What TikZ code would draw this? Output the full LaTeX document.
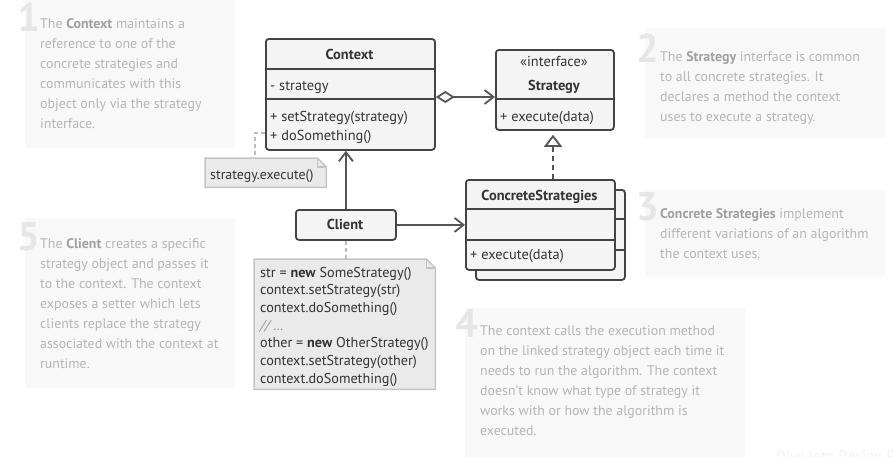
\documentclass[tikz,border=0pt]{standalone}
\usepackage{fontspec}
\setmainfont{PT Sans}
\usetikzlibrary{arrows.meta}
\definecolor{annbg}{HTML}{F8F8F8}
\definecolor{anntext}{HTML}{B5B5B5}
\definecolor{annbold}{HTML}{A0A0A0}
\definecolor{annnum}{HTML}{E6E6E6}
\definecolor{umlline}{HTML}{444444}
\definecolor{umlfill}{HTML}{F4F4F4}
\definecolor{umltext}{HTML}{333333}
\definecolor{connc}{HTML}{555555}
\definecolor{notefill}{HTML}{EAEAEA}
\definecolor{noteline}{HTML}{C4C4C4}
\definecolor{dashcol}{HTML}{BDBDBD}
\definecolor{wmark}{HTML}{F2F2F2}
\definecolor{cmtcol}{HTML}{999999}
\newcommand\annb[1]{\textbf{\color{annbold}#1}}
\begin{document}
\begin{tikzpicture}[x=1pt,y=-1pt,
  annbox/.style={fill=annbg, draw=none, inner sep=0pt, anchor=north west},
  anntxt/.style={anchor=north west, inner sep=0pt, align=left, text=anntext, font=\fontsize{13.9}{20}\selectfont},
  annnumber/.style={anchor=base west, inner sep=0pt, text=annnum, font=\fontsize{40}{40}\selectfont\bfseries},
  umlbox/.style={draw=umlline, fill=umlfill, line width=1.8pt, rounded corners=3pt, inner sep=0pt, anchor=north west},
  umldiv/.style={draw=umlline, line width=1.8pt},
  umltxt/.style={inner sep=0pt, text=umltext, font=\fontsize{14.4}{16}\selectfont},
  umlbold/.style={umltxt, font=\fontsize{14.4}{16}\selectfont\bfseries},
  notebox/.style={draw=none, inner sep=0pt, anchor=north west},
  notedraw/.style={draw=noteline, fill=notefill, line width=1.5pt},
  connline/.style={draw=connc, line width=1.8pt},
  openarrow/.style={-{Straight Barb[length=9pt,width=14pt]}},
  graydash/.style={draw=dashcol, line width=1.5pt, dash pattern=on 4pt off 3pt}
]
\useasboundingbox (0,0) rectangle (893,456);

% ---------- annotation panels ----------
\node[annbox, minimum width=210pt, minimum height=153pt] (a1bg) at (25,-5) {};
\node[annnumber] (a1num) at (17,31) {1};
\node[anntxt] (a1txt) at (40,14) {\strut The \annb{Context} maintains a\\ reference to one of the\\ concrete strategies and\\ communicates with this\\ object only via the strategy\\ interface.};

\node[annbox, minimum width=240pt, minimum height=110pt] (a2bg) at (645,28) {};
\node[annnumber] (a2num) at (636,62) {2};
\node[anntxt] (a2txt) at (660,47) {\strut The \annb{Strategy} interface is common\\ to all concrete strategies. It\\ declares a method the context\\ uses to execute a strategy.};

\node[annbox, minimum width=240pt, minimum height=87pt] (a3bg) at (645,190) {};
\node[annnumber] (a3num) at (636,220) {3};
\node[anntxt] (a3txt) at (660,204) {\strut\annb{Concrete Strategies} implement\\ different variations of an algorithm\\ the context uses.};

\node[annbox, minimum width=280pt, minimum height=160pt] (a4bg) at (465,308) {};
\node[annnumber] (a4num) at (455,337) {4};
\node[anntxt] (a4txt) at (480,321) {\strut The context calls the execution method\\ on the linked strategy object each time it\\ needs to run the algorithm. The context\\ doesn’t know what type of strategy it\\ works with or how the algorithm is\\ executed.};

\node[annbox, minimum width=210pt, minimum height=170pt] (a5bg) at (25,218) {};
\node[annnumber] (a5num) at (17,250) {5};
\node[anntxt] (a5txt) at (40,234) {\strut The \annb{Client} creates a specific\\ strategy object and passes it\\ to the context. The context\\ exposes a setter which lets\\ clients replace the strategy\\ associated with the context at\\ runtime.};

\node[anchor=base west, inner sep=0pt, text=wmark, font=\fontsize{15}{15}\selectfont] (wm) at (776,461) {Dive Into Design Patterns};

% ---------- Context ----------
\node[umlbox, minimum width=169pt, minimum height=111pt] (ctx) at (265,38) {};
\draw[umldiv] (265,69) -- (434,69);
\draw[umldiv] (265,99) -- (434,99);
\node[umlbold, anchor=base] (ctxname) at (349.5,59) {Context};
\node[umltxt, anchor=base west] (ctxf) at (270,90) {- strategy};
\node[umltxt, anchor=base west] (ctxm1) at (270,121) {+ setStrategy(strategy)};
\node[umltxt, anchor=base west] (ctxm2) at (270,140) {+ doSomething()};

% ---------- Strategy ----------
\node[umlbox, minimum width=118pt, minimum height=80pt] (strat) at (495,49) {};
\draw[umldiv] (495,99) -- (613,99);
\node[umltxt, anchor=base] (stratst) at (554,66) {«interface»};
\node[umlbold, anchor=base] (stratname) at (554,90) {Strategy};
\node[umltxt, anchor=base west] (stratm) at (500,121) {+ execute(data)};

% ---------- ConcreteStrategies ----------
\node[umlbox, minimum width=149pt, minimum height=90pt] (csb) at (475,189) {};
\draw[umldiv] (475,219) -- (624,219);
\draw[umldiv] (475,250) -- (624,250);
\node[umlbox, minimum width=149pt, minimum height=90pt] (csf) at (465,179) {};
\draw[umldiv] (465,209) -- (614,209);
\draw[umldiv] (465,240) -- (614,240);
\node[umlbold, anchor=base] (csname) at (539.5,200) {ConcreteStrategies};
\node[umltxt, anchor=base west] (csm) at (470,259.5) {+ execute(data)};

% ---------- Client ----------
\node[umlbox, minimum width=100pt, minimum height=30pt] (client) at (295,209) {};
\node[umlbold, anchor=base] (clientname) at (345,229) {Client};

% ---------- notes ----------
\node[notebox, minimum width=121pt, minimum height=29pt] (exen) at (205,158) {};
\draw[notedraw] (exen.north west) -- ([xshift=-9pt]exen.north east) -- ([yshift=-9pt]exen.north east) -- (exen.south east) -- (exen.south west) -- cycle;
\draw[draw=noteline, line width=1.5pt] ([xshift=-9pt]exen.north east) |- ([yshift=-9pt]exen.north east);
\node[umltxt, anchor=base west, font=\fontsize{13.9}{16}\selectfont] (exetxt) at (210,179.5) {strategy.execute()};

\node[notebox, minimum width=181pt, minimum height=130pt] (code) at (254,259) {};
\draw[notedraw] (code.north west) -- ([xshift=-9pt]code.north east) -- ([yshift=-9pt]code.north east) -- (code.south east) -- (code.south west) -- cycle;
\draw[draw=noteline, line width=1.5pt] ([xshift=-9pt]code.north east) |- ([yshift=-9pt]code.north east);
\node[anchor=north west, inner sep=0pt, align=left, text=umltext, font=\fontsize{14.2}{17.7}\selectfont] (codetxt) at (260,264.6) {\strut str = \textbf{new} SomeStrategy()\\ context.setStrategy(str)\\ context.doSomething()\\ {\color{cmtcol}\itshape // \ldots}\\ other = \textbf{new} OtherStrategy()\\ context.setStrategy(other)\\ context.doSomething()};

% ---------- connectors ----------
\coordinate (aggy) at (0,97);
\coordinate (realx) at (553,0);
\coordinate (hook) at (255,133);

\draw[connline, {Diamond[open,fill=white,length=19pt,width=12pt]}-{Straight Barb[length=9pt,width=14pt]}] (ctx.east |- aggy) -- (strat.west |- aggy);
\draw[connline, dash pattern=on 5pt off 4pt, -{Triangle[open,fill=white,length=12pt,width=18pt]}] (csf.north -| realx) -- ([yshift=-4pt]strat.south -| realx);
\draw[connline, openarrow] (client.north) -- (client.north |- ctx.south);
\draw[connline, openarrow] (client.east) -- (client.east -| csf.west);
\draw[graydash] (client.south) -- (client.south |- code.north);
\draw[graydash] (ctx.west |- hook) -- (hook) -- (hook |- exen.north);
\end{tikzpicture}
\end{document}
